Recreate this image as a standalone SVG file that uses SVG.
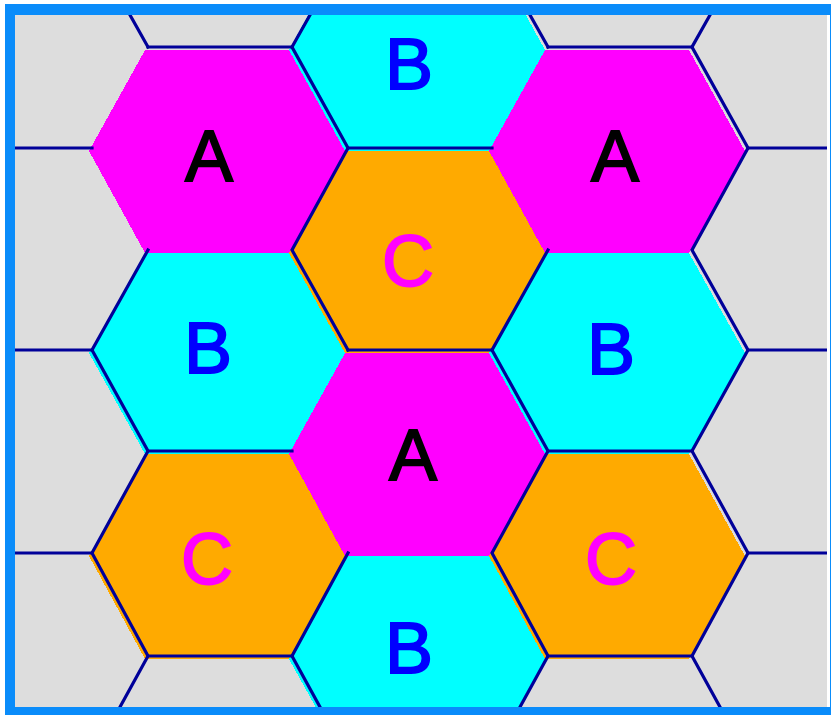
<svg xmlns="http://www.w3.org/2000/svg" width="831" height="715" viewBox="0 0 831 715">
<style>
.hex{shape-rendering:crispEdges}
.a{fill:#ff00ff}
.b{fill:#00ffff}
.c{fill:#ffaa00}
.lbl{font-family:"Liberation Sans",Arial,sans-serif;font-size:72px;text-anchor:middle;stroke-width:1.8}
.ta{fill:#000000;stroke:#000000}
.tb{fill:#0000ff;stroke:#0000ff}
.tc{fill:#ff00ff;stroke:#ff00ff}
.ln{stroke:#000099;stroke-width:3.2;fill:none;stroke-linecap:square}
</style>
<defs>
<clipPath id="inner"><rect x="15" y="15" width="812" height="692"/></clipPath>
</defs>
<rect x="5" y="4" width="826" height="711" fill="#0a8cfa"/>
<rect x="15" y="15" width="812" height="692" fill="#dddddd"/>
<rect x="827" y="15" width="3" height="692" fill="#ffffff"/>
<g clip-path="url(#inner)">
<g id="cell-A1"><polygon class="hex a" points="145,50 289,50 345,151 289,253 145,253 89,151"/><text class="lbl ta" x="209" y="181">A</text></g>
<g id="cell-B1"><polygon class="hex b" points="145,253 289,253 345,353 289,454 145,454 89,353"/><text class="lbl tb" x="208" y="373">B</text></g>
<g id="cell-C1"><polygon class="hex c" points="145,454 289,454 345,556 289,659 145,659 89,556"/><text class="lbl tc" x="207" y="584">C</text></g>
<g id="cell-B2"><polygon class="hex b" points="345,-52 489,-52 545,50 489,151 345,151 289,50"/><text class="lbl tb" x="409" y="89">B</text></g>
<g id="cell-C2"><polygon class="hex c" points="345,151 489,151 545,253 489,353 345,353 289,253"/><text class="lbl tc" x="408" y="286">C</text></g>
<g id="cell-A2"><polygon class="hex a" points="345,353 489,353 545,454 489,556 345,556 289,454"/><text class="lbl ta" x="413" y="480">A</text></g>
<g id="cell-B3"><polygon class="hex b" points="345,556 489,556 545,659 489,760 345,760 289,659"/><text class="lbl tb" x="409" y="673">B</text></g>
<g id="cell-A3"><polygon class="hex a" points="545,50 689,50 745,151 689,253 545,253 489,151"/><text class="lbl ta" x="615" y="181">A</text></g>
<g id="cell-B4"><polygon class="hex b" points="545,253 689,253 745,353 689,454 545,454 489,353"/><text class="lbl tb" x="611" y="374">B</text></g>
<g id="cell-C3"><polygon class="hex c" points="545,454 689,454 745,556 689,659 545,659 489,556"/><text class="lbl tc" x="611" y="584">C</text></g>
<g id="connectors" class="ln">
<path d="M148,47H292M548,47H692M15,148H92M348,148H492M748,148H827M15,350H92M348,350H492M748,350H827M148,451H292M548,451H692M15,553H92M748,553H827M148,656H292M548,656H692"/>
<path d="M130,15L148,47M310,15L292,47M530,15L548,47M710,15L692,47"/>
<path d="M292,47L348,148L292,250L348,350M148,250L92,350L148,451L92,553L148,656L120,707"/>
<path d="M492,350L548,250M692,47L748,148L692,250L748,350L692,451L748,553L692,656L720,707"/>
<path d="M492,350L548,451L492,553L548,656L520,707"/>
<path d="M348,553L292,656L320,707"/>
</g>
</g>
</svg>
